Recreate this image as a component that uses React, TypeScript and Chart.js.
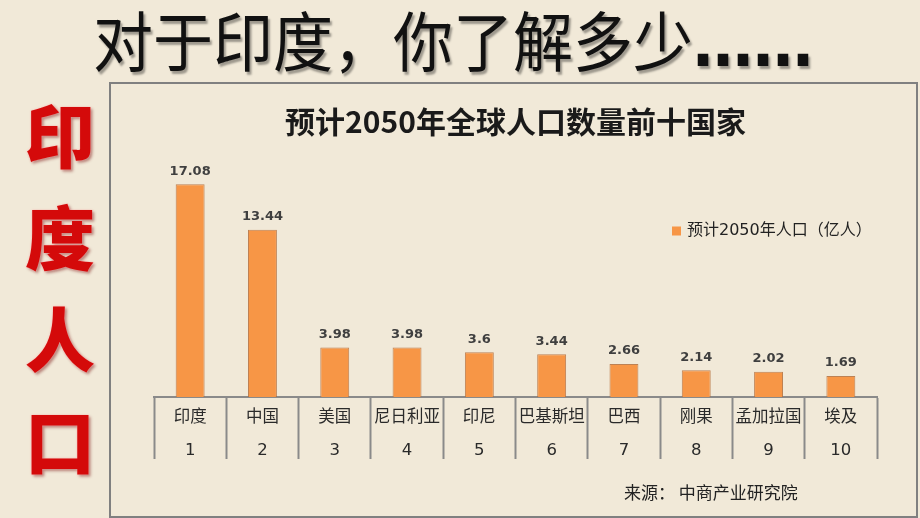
import React, { useEffect, useRef } from "react";
import { Chart, registerables } from "chart.js";

Chart.register(...registerables);

const slideTitle = "对于印度，你了解多少";
const slideEllipsis = "……";
const sideTitle = ["印", "度", "人", "口"];
const chartTitle = "预计2050年全球人口数量前十国家";
const seriesLabel = "预计2050年人口（亿人）";
const sourceNote = "来源： 中商产业研究院";

const countries = ["印度", "中国", "美国", "尼日利亚", "印尼", "巴基斯坦", "巴西", "刚果", "孟加拉国", "埃及"];
const ranks = ["1", "2", "3", "4", "5", "6", "7", "8", "9", "10"];
const population2050 = [17.08, 13.44, 3.98, 3.98, 3.6, 3.44, 2.66, 2.14, 2.02, 1.69];

const BAR_COLOR = "#F79646";
const CJK = '"Noto Sans CJK SC", "Noto Sans", sans-serif';

const dataLabelPlugin = {
  id: "dataLabels",
  afterDatasetsDraw(chart: any) {
    const ctx = chart.ctx;
    const meta = chart.getDatasetMeta(0);
    const values = chart.data.datasets[0].data;
    ctx.save();
    ctx.font = 'bold 13px "DejaVu Sans", sans-serif';
    ctx.fillStyle = "#3f3f3f";
    ctx.textAlign = "center";
    ctx.textBaseline = "middle";
    meta.data.forEach((el: any, i: number) => {
      ctx.fillText(String(values[i]), el.x, el.y - 13);
    });
    ctx.restore();
  },
};

const floatingLegendPlugin = {
  id: "floatingLegend",
  afterDraw(chart: any) {
    const ctx = chart.ctx;
    const area = chart.chartArea;
    const ds = chart.data.datasets[0];
    const x = area.left + 518;
    const y = area.top + 83;
    ctx.save();
    ctx.fillStyle = ds.backgroundColor;
    ctx.fillRect(x, y - 4.5, 9, 9);
    ctx.font = `16px "DejaVu Sans", ${CJK}`;
    ctx.fillStyle = "#222";
    ctx.textAlign = "left";
    ctx.textBaseline = "middle";
    ctx.fillText(ds.label, x + 15, y);
    ctx.restore();
  },
};

function PopulationChart() {
  const ref = useRef<HTMLCanvasElement | null>(null);
  useEffect(() => {
    if (!ref.current) return;
    const chart = new Chart(ref.current, {
      type: "bar",
      data: {
        labels: countries.map((c, i) => [c, ranks[i]]),
        datasets: [
          {
            label: seriesLabel,
            data: population2050,
            backgroundColor: BAR_COLOR,
            borderColor: "rgba(180,110,60,0.85)",
            borderWidth: 1,
            barPercentage: 0.4,
            categoryPercentage: 1.0,
          },
        ],
      },
      options: {
        responsive: false,
        animation: false,
        devicePixelRatio: 1,
        layout: { padding: { left: 154, right: 43, top: 0, bottom: 0 } },
        plugins: {
          legend: { display: false },
          tooltip: { enabled: false },
          title: {
            display: true,
            text: chartTitle,
            fullSize: false,
            color: "#1a1a1a",
            font: { family: CJK, size: 30, weight: "bold", lineHeight: 1.2 },
            padding: { top: 104, bottom: 8 },
          },
        },
        scales: {
          x: {
            grid: {
              display: true,
              offset: true,
              drawOnChartArea: false,
              drawTicks: true,
              tickLength: 62,
              tickColor: "#8a8a8a",
              tickWidth: 2,
            },
            border: { display: true, color: "#8a8a8a", width: 2 },
            ticks: {
              color: "#2a2a2a",
              padding: -57.5,
              maxRotation: 0,
              autoSkip: false,
              font: { family: `"DejaVu Sans", ${CJK}`, size: 16.5, lineHeight: 2.0 },
            },
            afterFit: (scale: any) => {
              scale.height = 121;
            },
          },
          y: {
            display: false,
            min: 0,
            max: 20,
          },
        },
      },
      plugins: [dataLabelPlugin, floatingLegendPlugin],
    } as any);
    return () => chart.destroy();
  }, []);
  return (
    <canvas
      ref={ref}
      width={920}
      height={518}
      style={{ position: "absolute", left: 0, top: 0, width: 920, height: 518 }}
    />
  );
}

export default function App() {
  return (
    <div
      style={{
        position: "fixed",
        left: 0,
        top: 0,
        width: 920,
        height: 518,
        background: "#F1E9D8",
        overflow: "hidden",
      }}
    >
      <div
        style={{
          position: "absolute",
          left: 93,
          top: 6,
          whiteSpace: "nowrap",
          fontFamily: CJK,
          fontSize: 60,
          lineHeight: "60px",
          fontWeight: 400,
          color: "#111",
          textShadow: "2px 2px 2px rgba(0,0,0,0.35)",
          transform: "scaleY(1.08)",
          transformOrigin: "top left",
        }}
      >
        {slideTitle}
        <span style={{ fontFamily: '"DejaVu Sans", sans-serif', fontWeight: "bold" }}>{slideEllipsis}</span>
      </div>
      <div
        style={{
          position: "absolute",
          left: 20,
          top: 82,
          width: 80,
          textAlign: "center",
          fontFamily: CJK,
          fontSize: 70,
          lineHeight: "102px",
          fontWeight: 900,
          color: "#D40A0A",
          textShadow: "0 0 2px rgba(255,170,170,0.9), 2px 2px 3px rgba(110,0,0,0.45)",
        }}
      >
        {sideTitle.map((ch) => (
          <div key={ch}>{ch}</div>
        ))}
      </div>
      <div
        style={{
          position: "absolute",
          left: 109,
          top: 82,
          width: 809,
          height: 436,
          boxSizing: "border-box",
          border: "2px solid #808080",
        }}
      />
      <PopulationChart />
      <div
        style={{
          position: "absolute",
          left: 624,
          top: 480,
          fontFamily: CJK,
          fontSize: 17,
          lineHeight: "24px",
          color: "#222",
          whiteSpace: "nowrap",
        }}
      >
        {sourceNote}
      </div>
    </div>
  );
}
